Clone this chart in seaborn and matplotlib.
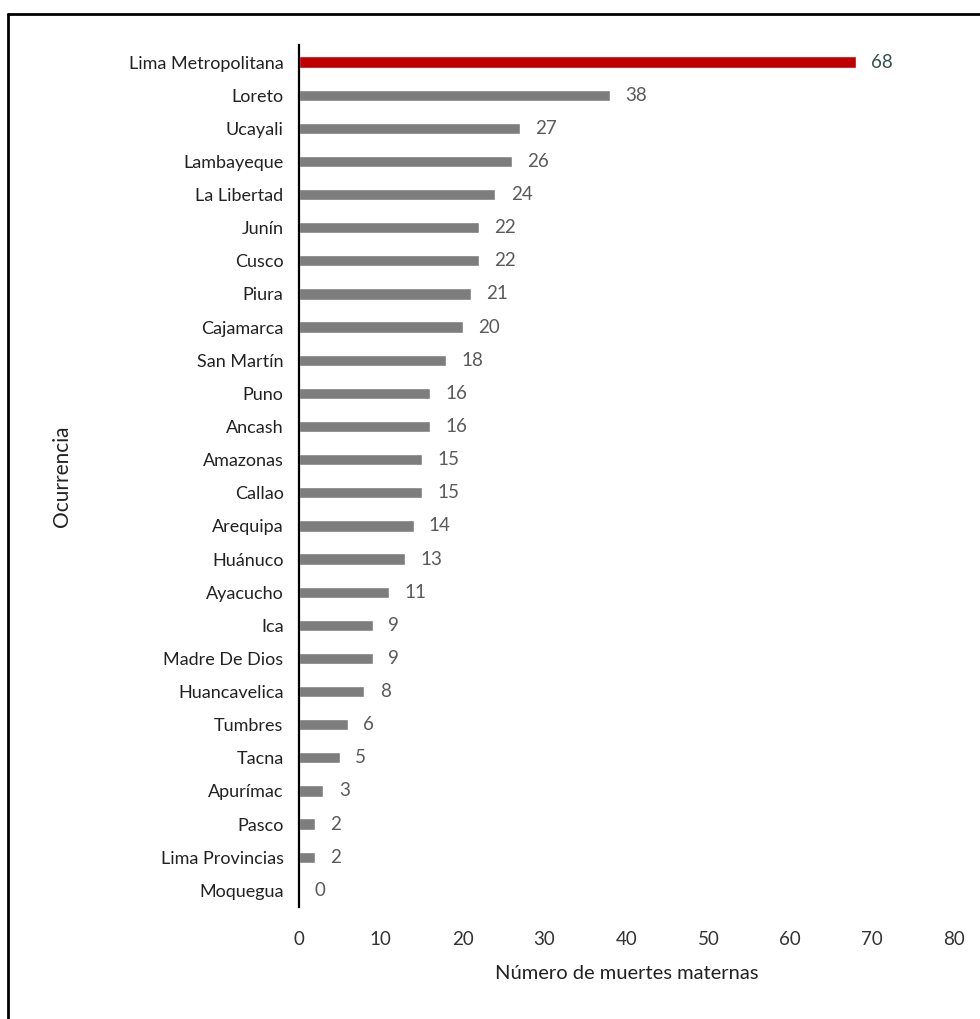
import matplotlib
matplotlib.use("Agg")
import matplotlib.pyplot as plt
from matplotlib.lines import Line2D
import seaborn as sns
import pandas as pd

regions = [
    "Lima Metropolitana", "Loreto", "Ucayali", "Lambayeque", "La Libertad",
    "Junín", "Cusco", "Piura", "Cajamarca", "San Martín", "Puno", "Ancash",
    "Amazonas", "Callao", "Arequipa", "Huánuco", "Ayacucho", "Ica",
    "Madre De Dios", "Huancavelica", "Tumbres", "Tacna", "Apurímac",
    "Pasco", "Lima Provincias", "Moquegua",
]
deaths = [68, 38, 27, 26, 24, 22, 22, 21, 20, 18, 16, 16, 15, 15, 14, 13,
          11, 9, 9, 8, 6, 5, 3, 2, 2, 0]
x_ticks = [0, 10, 20, 30, 40, 50, 60, 70, 80]

highlight = "Lima Metropolitana"
RED = "#C00000"
GREY = "#7d7d7d"

df = pd.DataFrame({"region": regions, "deaths": deaths})
palette = {r: (RED if r == highlight else GREY) for r in regions}

sns.set_theme(style="white")
plt.rcParams["font.family"] = ["Lato", "DejaVu Sans"]

fig = plt.figure(figsize=(9.8, 10.19), dpi=100)
ax = fig.add_axes([0.305, 0.110, 0.6685, 0.8454])

sns.barplot(data=df, x="deaths", y="region", hue="region", palette=palette,
            legend=False, width=0.34, orient="h", ax=ax, saturation=1)

ax.set_xlim(0, 80)
ax.set_ylim(len(regions) - 0.5, -0.5)
ax.set_xticks(x_ticks)
ax.set_xticklabels([str(t) for t in x_ticks])

for side in ("top", "right", "bottom"):
    ax.spines[side].set_visible(False)
ax.spines["left"].set_color("black")
ax.spines["left"].set_linewidth(1.6)

ax.tick_params(axis="y", length=0, pad=11, labelsize=13, labelcolor="#222222")
ax.tick_params(axis="x", length=0, pad=17, labelsize=13.5, labelcolor="#333333")

# value labels at the end of each bar
for container in ax.containers:
    labels = ax.bar_label(container, padding=11, fontsize=13.5, color="#5a5a5a")
    for t in labels:
        if t.get_text() == str(deaths[0]):
            t.set_color("#3c4f4f")

ax.set_xlabel("Número de muertes maternas", fontsize=14.5, color="#222222")
ax.xaxis.set_label_coords(0.5, -0.068)
ax.set_ylabel("Ocurrencia", fontsize=15, color="#222222")
ax.yaxis.set_label_coords(-0.346, 0.5)

# outer frame (top and left edges)
fig.add_artist(Line2D([0.008, 1.0], [0.9865, 0.9865], color="black",
                      linewidth=2, transform=fig.transFigure))
fig.add_artist(Line2D([0.008, 0.008], [0.0, 0.9865], color="black",
                      linewidth=2, transform=fig.transFigure))

fig.savefig("out.png", dpi=100)
